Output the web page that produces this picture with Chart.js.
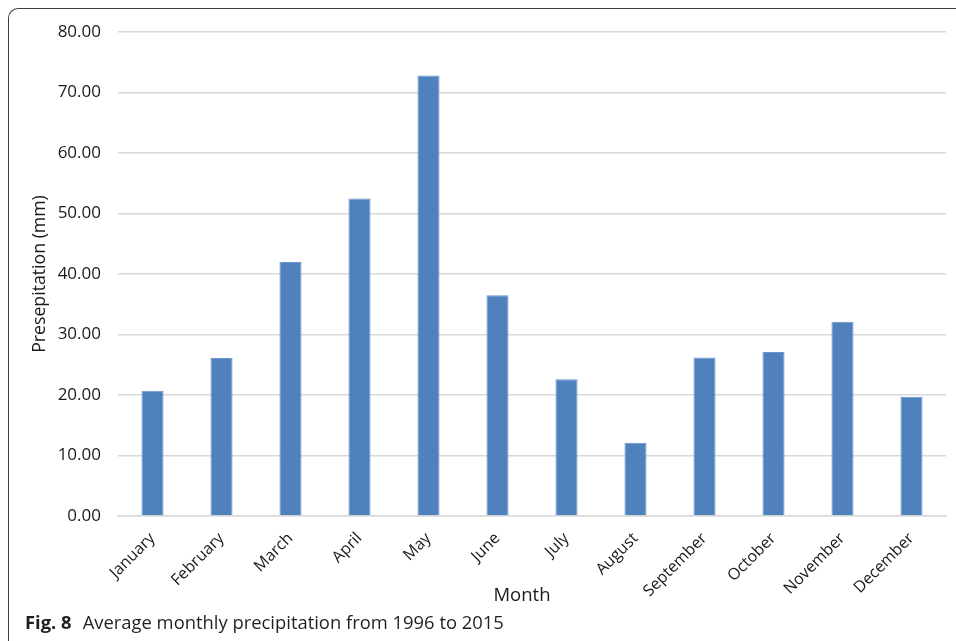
<!DOCTYPE html>
<html>
<head>
<meta charset="utf-8">
<script src="https://cdn.jsdelivr.net/npm/chart.js@4/dist/chart.umd.min.js"></script>
<style>
  html, body { margin: 0; padding: 0; background: #fff; }
  #wrap { position: relative; width: 956px; height: 641px; overflow: hidden; }
  #frame {
    position: absolute; left: 8px; top: 8px; width: 980px; height: 680px;
    border-top: 1.5px solid #3f3f3f; border-left: 1.5px solid #3f3f3f;
    border-top-left-radius: 10px; box-sizing: border-box;
  }
  #chart { position: absolute; left: 0; top: 0; }
  #caption {
    position: absolute; left: 25px; top: 609px;
    font-family: "Open Sans", sans-serif; font-size: 18.4px; color: #231f20;
    white-space: pre;
  }
  #caption b { font-weight: 700; margin-right: 11px; }
</style>
</head>
<body>
<div id="wrap">
  <div id="frame"></div>
  <canvas id="chart" width="956" height="641"></canvas>
  <div id="caption"><b>Fig. 8</b>Average monthly precipitation from 1996 to 2015</div>
</div>
<script>
// Average monthly precipitation (mm), 1996–2015
const months = ['January', 'February', 'March', 'April', 'May', 'June',
                'July', 'August', 'September', 'October', 'November', 'December'];
const precipitation = [20.7, 26.1, 42.0, 52.5, 72.8, 36.5, 22.6, 12.1, 26.2, 27.1, 32.1, 19.7];
const yTicks = [0, 10, 20, 30, 40, 50, 60, 70, 80];

const gridColor = '#d9d9d9';
const textColor = '#1a1a1a';
const fontFamily = '"Open Sans", sans-serif';

// Category-axis title, set slightly left of the plot centre
const monthTitle = {
  id: 'monthTitle',
  afterDraw(chart) {
    const { ctx, chartArea } = chart;
    ctx.save();
    ctx.font = `18.5px ${fontFamily}`;
    ctx.fillStyle = textColor;
    ctx.textAlign = 'center';
    ctx.textBaseline = 'middle';
    ctx.fillText('Month', (chartArea.left + chartArea.right) / 2 - 10, chartArea.bottom + 80);
    ctx.restore();
  }
};

new Chart(document.getElementById('chart'), {
  type: 'bar',
  data: {
    labels: months,
    datasets: [{
      data: precipitation,
      backgroundColor: '#4f81bd',
      borderColor: '#6a96cc',
      borderWidth: { left: 1, right: 1, top: 1, bottom: 0 },
      barPercentage: 0.32,
      categoryPercentage: 1.0
    }]
  },
  plugins: [monthTitle],
  options: {
    responsive: false,
    animation: false,
    layout: { padding: { left: 0, right: 10, top: 32, bottom: 30 } },
    plugins: { legend: { display: false }, tooltip: { enabled: false } },
    scales: {
      x: {
        grid: { display: false, drawTicks: false },
        border: { display: true, color: gridColor, width: 1.5 },
        ticks: {
          color: textColor, font: { family: fontFamily, size: 16 },
          maxRotation: 45, minRotation: 45, padding: 13, autoSkip: false
        },
        afterFit: (scale) => { scale.height = 95; }
      },
      y: {
        min: 0, max: 80,
        afterBuildTicks: (scale) => { scale.ticks = yTicks.map(v => ({ value: v })); },
        grid: { color: gridColor, lineWidth: 1.5, drawTicks: false },
        border: { display: false },
        ticks: {
          color: textColor, font: { family: fontFamily, size: 17 }, padding: 17,
          callback: (v) => Number(v).toFixed(2)
        },
        title: {
          display: true, text: 'Presepitation (mm)', color: textColor,
          font: { family: fontFamily, size: 17.7 }, padding: { top: 29, bottom: 0 }
        },
        afterFit: (scale) => { scale.width = 118; }
      }
    }
  }
});
</script>
</body>
</html>
